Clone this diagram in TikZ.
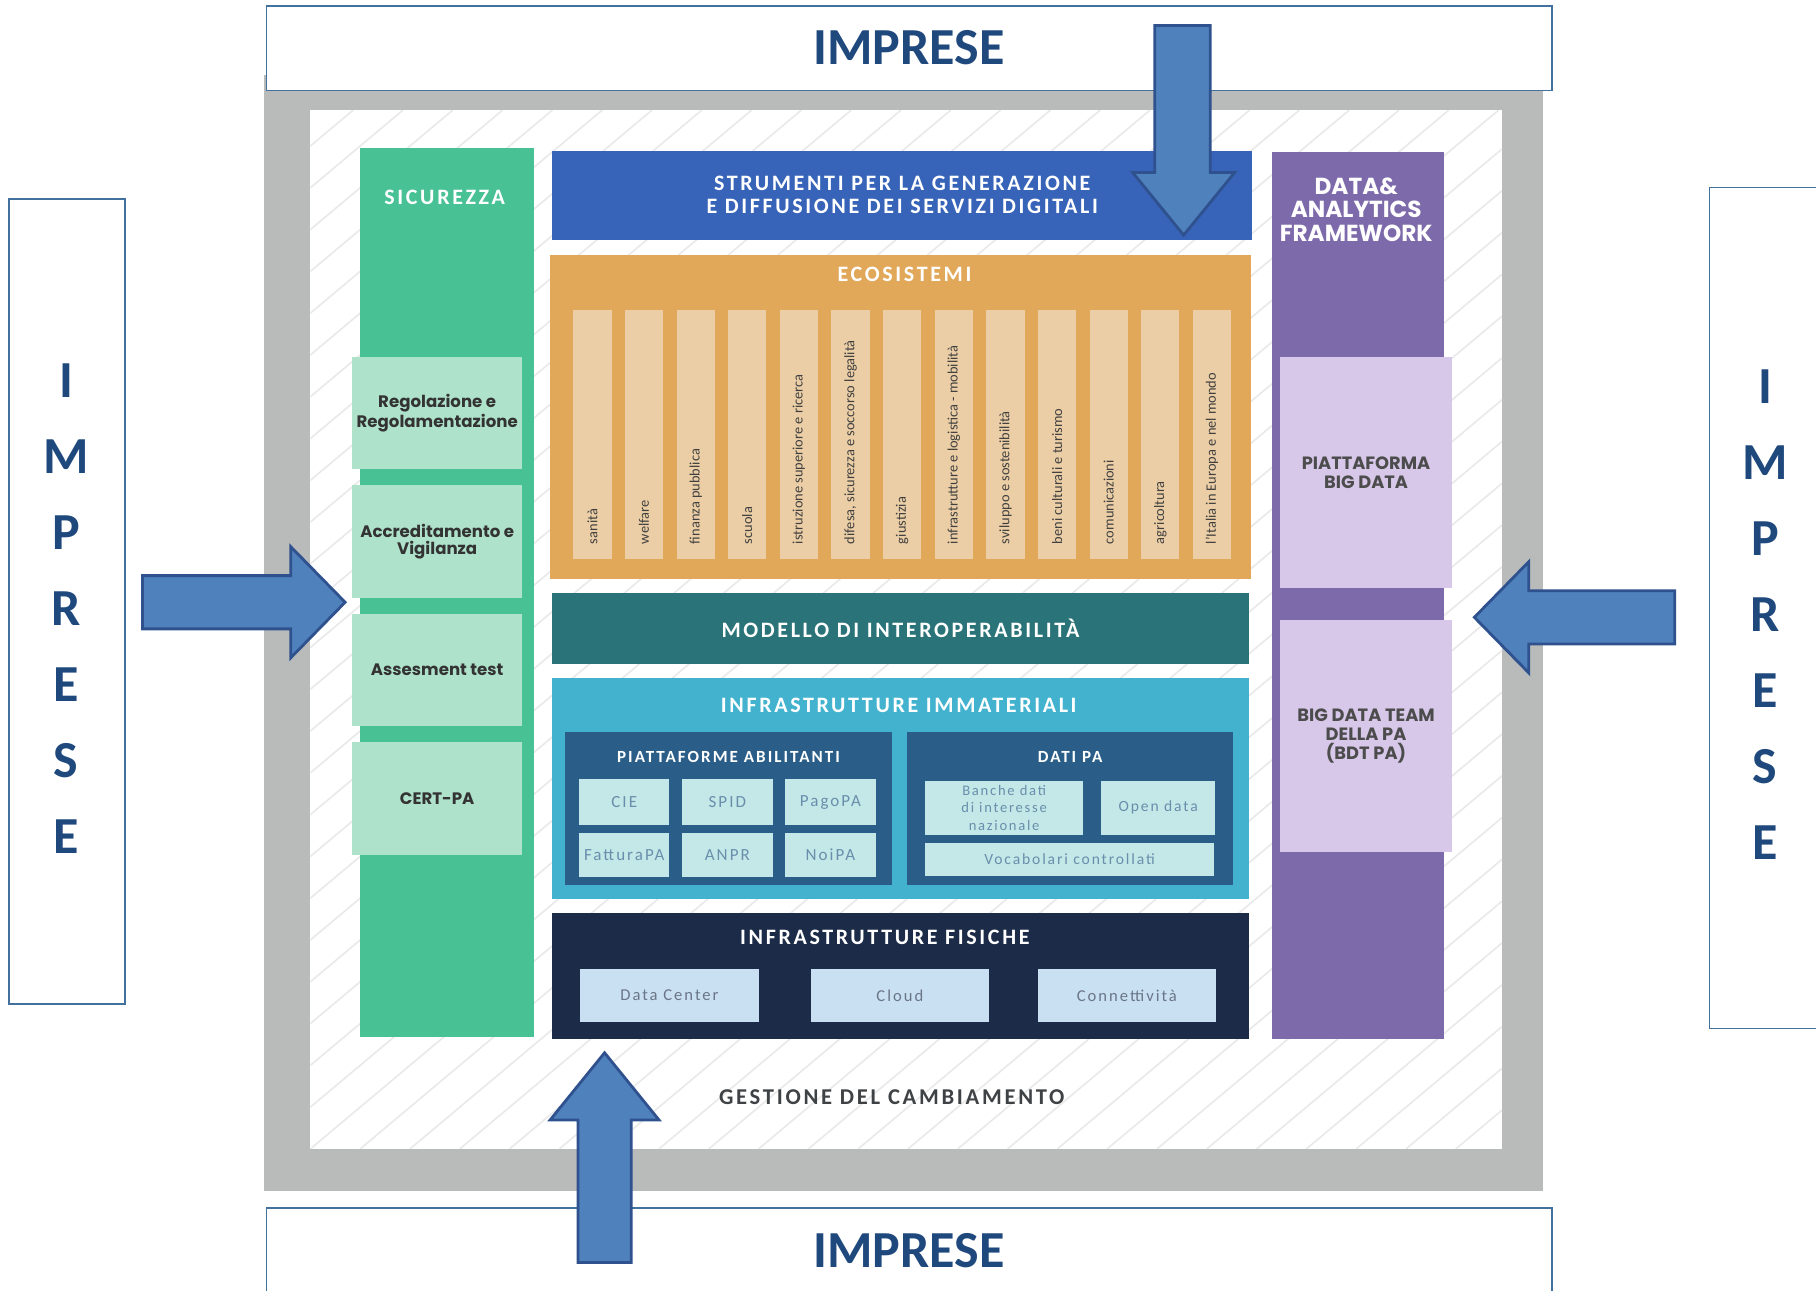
\documentclass[tikz,border=0pt]{standalone}
\usepackage{fontspec}
\setmainfont{Carlito}
\newfontfamily\headfont[LetterSpace=12]{Carlito}
\newfontfamily\widefont{Poppins}
\usetikzlibrary{positioning, calc}

\definecolor{imprText}{HTML}{1F497D}
\definecolor{imprLine}{HTML}{41719C}
\definecolor{arrFill}{HTML}{4F81BD}
\definecolor{arrLine}{HTML}{2F528F}
\definecolor{frameGrey}{HTML}{B8BBBA}
\definecolor{hatchGrey}{HTML}{E9E9E9}
\definecolor{secGreen}{HTML}{48C195}
\definecolor{secLight}{HTML}{AFE2CB}
\definecolor{toolBlue}{HTML}{3764B8}
\definecolor{ecoOrange}{HTML}{E1A85A}
\definecolor{ecoLight}{HTML}{EBCEA5}
\definecolor{interTeal}{HTML}{2A7378}
\definecolor{immCyan}{HTML}{42B2CE}
\definecolor{immDark}{HTML}{2A5E88}
\definecolor{immLight}{HTML}{C3E8E7}
\definecolor{fisNavy}{HTML}{1C2B48}
\definecolor{fisLight}{HTML}{C8E0F1}
\definecolor{dataPurple}{HTML}{7D6AAA}
\definecolor{dataLight}{HTML}{D7C7E8}
\definecolor{changeGrey}{HTML}{3F4245}

\newcommand\pxu{0.5791pt}

\tikzset{
	panel/.style 2 args={
		rectangle,
		inner sep=0pt,
		outer sep=0pt,
		anchor=north west,
		minimum width=#1*\pxu,
		minimum height=#2*\pxu
	},
	impresa box/.style 2 args={
		panel={#1}{#2},
		draw=imprLine,
		line width=0.8pt,
		fill=white
	},
	impresa word/.style={
		text=imprText,
		font=\fontsize{26}{28}\selectfont\bfseries
	},
	impresa arrow/.style={
		fill=arrFill,
		draw=arrLine,
		line width=1.4pt,
		line join=miter
	},
	hatchline/.style={draw=hatchGrey, line width=0.8pt},
	headline/.style={
		text=white,
		align=center,
		font=\headfont\fontsize{11}{11.6}\selectfont\bfseries
	},
	subhead/.style={
		text=white,
		font=\headfont\fontsize{8.5}{9}\selectfont\bfseries
	},
	sec text/.style={
		text=black!80,
		align=center,
		font=\widefont\fontsize{8.3}{8.8}\selectfont\bfseries
	},
	eco text/.style={
		text=black!75,
		rotate=90,
		anchor=west,
		inner sep=0pt,
		font=\fontsize{7.2}{8}\selectfont
	},
	tile text/.style={
		text=immDark!70,
		align=center,
		font=\headfont\fontsize{8.5}{9}\selectfont
	},
	fis text/.style={
		text=fisNavy!65,
		font=\headfont\fontsize{8.3}{9}\selectfont
	},
	data head/.style={
		text=white,
		align=center,
		font=\widefont\fontsize{11.6}{11.6}\selectfont\bfseries
	},
	data text/.style={
		text=black!70,
		align=center,
		font=\widefont\fontsize{8.9}{9.5}\selectfont\bfseries
	},
}

\begin{document}
\begin{tikzpicture}[x=0.5791pt, y=-0.5791pt]
	\useasboundingbox (0,0) rectangle (1568,1114);
	\clip (0,0) rectangle (1568,1114);

	% grey frame and hatched field
	\node[panel={1104}{963}, fill=frameGrey] (frame) at (228,65) {};
	\node[panel={1029}{897}, fill=white] (field) at (268,95) {};
	\begin{scope}
		\clip (field.south west) rectangle (field.north east);
		\foreach \k in {-25,...,24}
			\draw[hatchline] ({268+43*\k},992) -- ++(1069,-897);
	\end{scope}

	% IMPRESE all around
	\node[impresa box={1110}{73}, impresa word] (topImp) at (230,5) {IMPRESE};
	\node[impresa box={1110}{90}] (botImp) at (230,1043) {};
	\node[impresa word] (botImpT) at (785,1080) {IMPRESE};
	\node[impresa box={100}{695}] (leftImp) at (8,172) {};
	\node[impresa box={110}{726}] (rightImp) at (1476,162) {};
	\foreach \ch [count=\i from 0] in {I,M,P,R,E,S,E} {
		\node[impresa word] (leftL\i) at (57,{329+65.6*\i}) {\ch};
		\node[impresa word] (rightL\i) at (1524,{334+65.6*\i}) {\ch};
	}

	% SICUREZZA
	\node[panel={150}{767}, fill=secGreen] (sic) at (311,128) {};
	\node[headline] (sicT) at (384,170) {SICUREZZA};
	\foreach \t [count=\i from 0] in {{Regolazione e\\Regolamentazione},
			{Accreditamento e\\Vigilanza}, {Assesment test}, {CERT-PA}}
		\node[panel={147}{97}, fill=secLight, sec text] (sec\i) at (304,{308+111*\i}) {\t};

	% servizi digitali
	\node[panel={604}{77}, fill=toolBlue, headline] (tools) at (477,130)
		{STRUMENTI PER LA GENERAZIONE\\E DIFFUSIONE DEI SERVIZI DIGITALI};

	% ECOSISTEMI
	\node[panel={605}{280}, fill=ecoOrange] (eco) at (475,220) {};
	\node[headline] (ecoT) at (781,237) {ECOSISTEMI};
	\foreach \t [count=\i from 0] in {sanità, welfare, finanza pubblica, scuola,
			istruzione superiore e ricerca, {difesa, sicurezza e soccorso legalità},
			giustizia, infrastrutture e logistica - mobilità, sviluppo e sostenibilità,
			beni culturali e turismo, comunicazioni, agricoltura,
			l'Italia in Europa e nel mondo} {
		\node[panel={33}{215}, fill=ecoLight] (col\i) at ({495+44.58*\i},268) {};
		\node[eco text] (colT\i) at ([yshift=7.5pt]col\i.south) {\t};
	}

	% interoperabilita
	\node[panel={601}{61}, fill=interTeal, headline] (interop) at (477,512)
		{MODELLO DI INTEROPERABILITÀ};

	% INFRASTRUTTURE IMMATERIALI
	\node[panel={601}{191}, fill=immCyan] (immat) at (477,585) {};
	\node[headline] (immatT) at (776,609) {INFRASTRUTTURE IMMATERIALI};
	\node[panel={282}{132}, fill=immDark] (abil) at (488,632) {};
	\node[subhead] (abilT) at (629,654) {PIATTAFORME ABILITANTI};
	\node[panel={282}{132}, fill=immDark] (datiPA) at (783,632) {};
	\node[subhead] (datiT) at (924,654) {DATI PA};
	\foreach \t [count=\i from 0] in {CIE, SPID, PagoPA}
		\node[panel={78}{39}, fill=immLight, tile text] (pa\i) at ({500+89*\i},673) {\t};
	\foreach \t [count=\i from 0] in {FatturaPA, ANPR, NoiPA}
		\node[panel={78}{38}, fill=immLight, tile text] (pb\i) at ({500+89*\i},719) {\t};
	\node[panel={136}{47}, fill=immLight, tile text, font=\headfont\fontsize{7.3}{8.8}\selectfont]
		(banche) at (799,674) {Banche dati\\di interesse\\nazionale};
	\node[panel={98}{47}, fill=immLight, tile text, font=\headfont\fontsize{7.8}{9}\selectfont]
		(open) at (951,674) {Open data};
	\node[panel={249}{28}, fill=immLight, tile text, font=\headfont\fontsize{7.8}{9}\selectfont]
		(vocab) at (799,728) {Vocabolari controllati};

	% INFRASTRUTTURE FISICHE
	\node[panel={601}{109}, fill=fisNavy] (fisiche) at (477,788) {};
	\node[headline] (fisicheT) at (764,809) {INFRASTRUTTURE FISICHE};
	\foreach \t/\x [count=\i from 0] in {Data Center/501, Cloud/700, Connettività/896}
		\node[panel={154}{45}, fill=fisLight, fis text] (fis\i) at (\x,837) {\t};

	\node[headline, text=changeGrey, font=\headfont\fontsize{11.3}{12}\selectfont\bfseries]
		(change) at (770,947) {GESTIONE DEL CAMBIAMENTO};

	% DATA & ANALYTICS
	\node[panel={149}{766}, fill=dataPurple] (data) at (1098,131) {};
	\node[data head] (dataT) at (1171,181) {DATA\&\\ANALYTICS\\FRAMEWORK};
	\node[panel={149}{200}, fill=dataLight, data text] (bigdata) at (1105,308)
		{PIATTAFORMA\\BIG DATA};
	\node[panel={149}{201}, fill=dataLight, data text] (bdt) at (1105,535)
		{BIG DATA TEAM\\DELLA PA\\(BDT PA)};

	% arrows from IMPRESE
	\draw[impresa arrow] (997,22) -- (1045,22) -- (1045,149) -- (1066,149)
		-- (1022,203) -- (978,149) -- (997,149) -- cycle;
	\draw[impresa arrow] (123,497) -- (251,497) -- (251,472) -- (298,520)
		-- (251,568) -- (251,543) -- (123,543) -- cycle;
	\draw[impresa arrow] (1446,510) -- (1320,510) -- (1320,485) -- (1273,533)
		-- (1320,581) -- (1320,556) -- (1446,556) -- cycle;
	\draw[impresa arrow] (499,1090) -- (499,967) -- (475,967) -- (522,909)
		-- (569,967) -- (545,967) -- (545,1090) -- cycle;
\end{tikzpicture}
\end{document}
